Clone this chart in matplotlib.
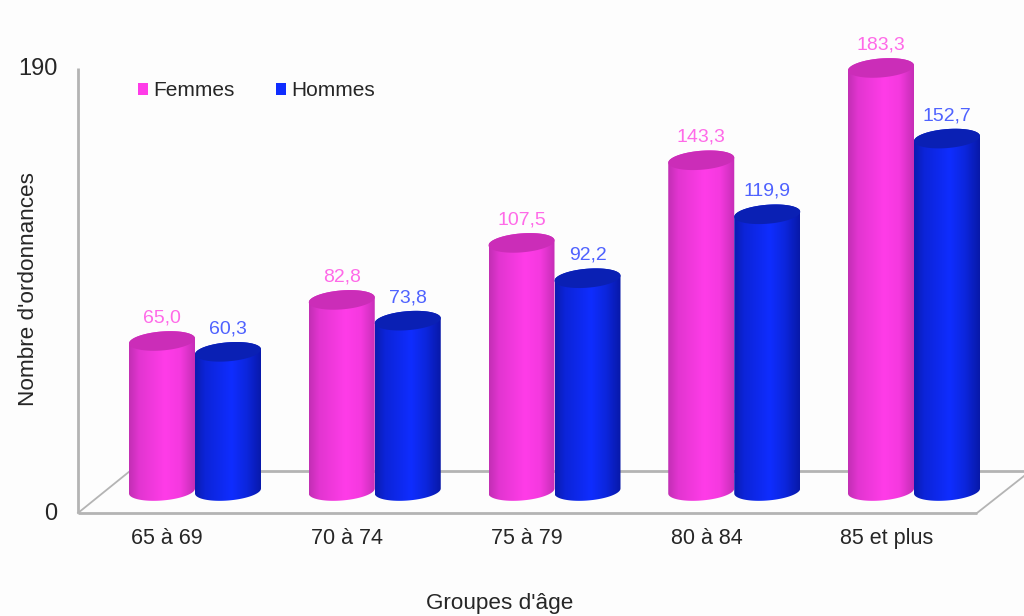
from __future__ import annotations

import matplotlib.pyplot as plt
import numpy as np
from matplotlib.colors import LinearSegmentedColormap
from matplotlib.patches import Patch, PathPatch, Polygon
from matplotlib.path import Path

plt.rcParams["font.family"] = ["Liberation Sans", "DejaVu Sans"]

age_groups = ["65 à 69", "70 à 74", "75 à 79", "80 à 84", "85 et plus"]
femmes = [65.0, 82.8, 107.5, 143.3, 183.3]
hommes = [60.3, 73.8, 92.2, 119.9, 152.7]
y_ticks = [0, 190]

WIDTH, HEIGHT = 1024, 616
PX_PER_UNIT = 2.308  # vertical pixels for one prescription
PX_PER_GROUP = 179.75
BASE_PX = 491
FIRST_GROUP_PX = 195

BAR_WIDTH = 66 / PX_PER_GROUP
CAP_HALF = 9.5 / PX_PER_UNIT
CAP_TILT = 2.5 / PX_PER_UNIT

# floor of the pseudo 3D box, as offsets in data units
FLOOR_FRONT = -22 / PX_PER_UNIT
FLOOR_BACK = 20 / PX_PER_UNIT
AXIS_TOP = 423 / PX_PER_UNIT
AXIS_X = (78 - FIRST_GROUP_PX) / PX_PER_GROUP
BACK_X = (130 - FIRST_GROUP_PX) / PX_PER_GROUP
FRONT_END_X = (977 - FIRST_GROUP_PX) / PX_PER_GROUP

PINK = {
    "body": ["#c22fb4", "#e235d0", "#ff3ce8", "#f539df", "#c52eb6"],
    "cap": "#cb2db8",
    "text": "#ff6ae8",
    "legend": "#ff3ce8",
}
BLUE = {
    "body": ["#0a1cb0", "#0c24d8", "#0f2dff", "#0c26dc", "#0818a8"],
    "cap": "#0a20b4",
    "text": "#4f62ff",
    "legend": "#0f2dff",
}
GRAY = "#b4b4b4"
TEXT = "#262626"


def ellipse(x, y, start, stop, n=60):
    t = np.linspace(start, stop, n)
    return np.column_stack(
        [
            x + BAR_WIDTH / 2 * np.cos(t),
            y + CAP_HALF * np.sin(t) + CAP_TILT * np.cos(t),
        ]
    )


def draw_cylinder(ax, x, value, style):
    cmap = LinearSegmentedColormap.from_list(
        "body", list(zip([0, 0.15, 0.55, 0.78, 1], style["body"]))
    )
    outline = np.vstack([ellipse(x, 0, np.pi, 2 * np.pi), ellipse(x, value, 0, np.pi)])
    image = ax.imshow(
        np.linspace(0, 1, 128)[None, :],
        cmap=cmap,
        aspect="auto",
        interpolation="bilinear",
        extent=(x - BAR_WIDTH / 2, x + BAR_WIDTH / 2, -CAP_HALF * 2, value + CAP_HALF * 2),
        zorder=3,
    )
    image.set_clip_path(PathPatch(Path(outline), transform=ax.transData))
    ax.add_patch(
        Polygon(ellipse(x, value, 0, 2 * np.pi), closed=True, facecolor=style["cap"],
                edgecolor="none", zorder=3.1)
    )
    ax.annotate(
        f"{value:.1f}".replace(".", ","),
        (x, value),
        xytext=(0, 16.6),
        textcoords="offset points",
        ha="center",
        va="center",
        color=style["text"],
        fontsize=14,
        zorder=5,
    )


def main() -> None:
    figure = plt.figure(figsize=(WIDTH / 100, HEIGHT / 100), dpi=100, facecolor="#fdfdfd")
    ax = figure.add_axes([0, 0, 1, 1])
    ax.set_facecolor("#fdfdfd")
    ax.axis("off")

    # box lines behind the bars
    line_style = dict(color=GRAY, linewidth=2, zorder=1, solid_capstyle="butt")
    ax.plot([AXIS_X, AXIS_X], [FLOOR_FRONT, AXIS_TOP], **line_style)
    ax.plot([AXIS_X, FRONT_END_X], [FLOOR_FRONT, FLOOR_FRONT], **line_style)
    ax.plot([BACK_X, 5], [FLOOR_BACK, FLOOR_BACK], **line_style)
    ax.plot([AXIS_X, BACK_X], [FLOOR_FRONT, FLOOR_BACK], color=GRAY, linewidth=1.3, zorder=1)
    ax.plot(
        [FRONT_END_X, FRONT_END_X + 47 / PX_PER_GROUP],
        [FLOOR_FRONT, FLOOR_FRONT + 37 / PX_PER_UNIT],
        color=GRAY,
        linewidth=1.3,
        zorder=1,
    )

    for i, (woman, man) in enumerate(zip(femmes, hommes)):
        draw_cylinder(ax, i - BAR_WIDTH / 2, woman, PINK)
        draw_cylinder(ax, i + BAR_WIDTH / 2, man, BLUE)
        ax.annotate(
            age_groups[i],
            (i, FLOOR_FRONT),
            xytext=(-20, -22),
            textcoords="offset points",
            ha="center",
            va="baseline",
            color=TEXT,
            fontsize=15.5,
        )

    ax.set_xlim(-FIRST_GROUP_PX / PX_PER_GROUP, (WIDTH - FIRST_GROUP_PX) / PX_PER_GROUP)
    ax.set_ylim((BASE_PX - HEIGHT) / PX_PER_UNIT, BASE_PX / PX_PER_UNIT)

    # value axis labels sit on the front plane of the box
    for tick, position in zip(y_ticks, [FLOOR_FRONT, AXIS_TOP]):
        ax.annotate(
            str(tick),
            (AXIS_X, position),
            xytext=(-15, -0.5),
            textcoords="offset points",
            ha="right",
            va="center",
            color=TEXT,
            fontsize=17,
        )

    figure.text(29 / WIDTH, 1 - 289 / HEIGHT, "Nombre d'ordonnances", rotation=90,
                ha="center", va="center", color=TEXT, fontsize=16.2)
    figure.text(500 / WIDTH, 1 - 604 / HEIGHT, "Groupes d'âge",
                ha="center", va="center", color=TEXT, fontsize=16.2)

    handles = [
        Patch(facecolor=PINK["legend"], label="Femmes"),
        Patch(facecolor=BLUE["legend"], label="Hommes"),
    ]
    ax.legend(
        handles=handles,
        loc="center left",
        bbox_to_anchor=(138 / WIDTH, 1 - 91 / HEIGHT),
        ncol=2,
        frameon=False,
        fontsize=15,
        labelcolor=TEXT,
        handlelength=0.48,
        handleheight=0.5,
        handletextpad=0.24,
        columnspacing=2.0,
        borderpad=0,
        borderaxespad=0,
    )

    figure.savefig("out.png", dpi=100, facecolor=figure.get_facecolor())
    plt.close(figure)


if __name__ == "__main__":
    main()
